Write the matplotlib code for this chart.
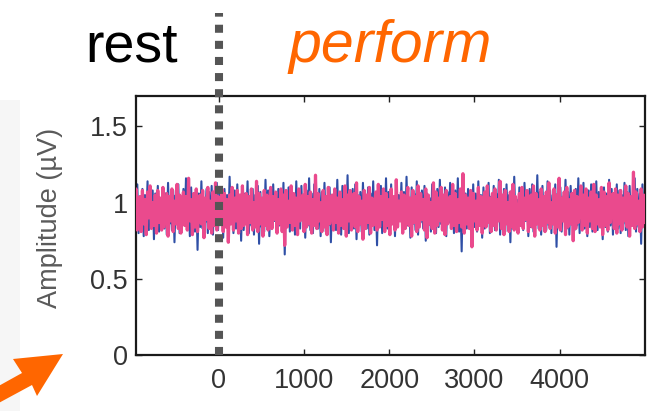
import numpy as np
import matplotlib
matplotlib.use("Agg")
import matplotlib.pyplot as plt
from matplotlib.patches import Rectangle, Polygon
from matplotlib.transforms import blended_transform_factory

plt.rcParams['font.family'] = ['Liberation Sans', 'DejaVu Sans']

# ---- data ----
t_start, t_end = -1000, 5000          # ms
onset = 0                               # rest/perform boundary
xticks = [0, 1000, 2000, 3000, 4000]
yticks = [0, 0.5, 1, 1.5]
ytick_labels = ["0", "0.5", "1", "1.5"]

amp_blue = [
0.83,1.07,0.86,1.12,0.80,1.04,0.88,1.09,0.78,1.05,0.85,1.14,0.82,1.02,0.87,1.08,0.76,1.06,0.84,1.11,
0.81,1.03,0.89,1.10,0.83,1.06,0.79,1.13,0.86,1.01,0.82,1.08,0.74,1.05,0.87,1.12,0.80,1.04,0.85,1.09,
0.88,1.16,0.82,1.05,0.78,1.10,0.86,1.03,0.81,1.08,0.69,1.06,0.84,1.14,0.83,1.02,0.87,1.09,0.80,1.07,
0.85,1.11,0.79,1.04,0.88,1.13,0.82,1.06,0.86,1.01,0.77,1.09,0.84,1.05,0.81,1.17,0.87,1.03,0.80,1.08,
0.83,1.12,0.86,1.04,0.75,1.10,0.82,1.06,0.88,1.14,0.80,1.02,0.85,1.09,0.79,1.05,0.87,1.11,0.73,1.07,
0.84,1.03,0.81,1.15,0.86,1.08,0.78,1.05,0.83,1.12,0.88,1.01,0.80,1.09,0.85,1.06,0.82,1.13,0.66,1.04,
0.87,1.10,0.81,1.07,0.84,1.02,0.79,1.14,0.86,1.05,0.83,1.11,0.88,1.03,0.77,1.08,0.85,1.16,0.82,1.06,
0.80,1.12,0.86,1.04,0.83,1.09,0.78,1.07,0.87,1.13,0.81,1.02,0.85,1.10,0.74,1.05,0.88,1.08,0.82,1.15,
0.84,1.03,0.79,1.11,0.86,1.06,0.82,1.18,0.80,1.04,0.87,1.09,0.83,1.12,0.76,1.05,0.85,1.07,0.81,1.13,
0.88,1.02,0.83,1.10,0.79,1.06,0.86,1.14,0.82,1.04,0.72,1.08,0.85,1.11,0.80,1.05,0.87,1.16,0.83,1.07,
0.81,1.12,0.86,1.03,0.78,1.09,0.84,1.05,0.88,1.13,0.80,1.07,0.83,1.17,0.85,1.02,0.77,1.10,0.86,1.06,
0.82,1.14,0.79,1.04,0.87,1.08,0.83,1.11,0.75,1.06,0.85,1.03,0.81,1.12,0.88,1.05,0.80,1.09,0.84,1.15,
0.86,1.05,0.82,1.10,0.78,1.07,0.87,1.13,0.83,1.02,0.80,1.08,0.85,1.16,0.81,1.04,0.68,1.11,0.86,1.06,
0.83,1.09,0.88,1.03,0.79,1.12,0.84,1.06,0.81,1.14,0.86,1.05,0.77,1.10,0.83,1.07,0.87,1.13,0.80,1.04,
0.85,1.11,0.82,1.06,0.88,1.15,0.79,1.03,0.84,1.09,0.81,1.12,0.86,1.05,0.74,1.08,0.83,1.17,0.87,1.02,
0.80,1.10,0.85,1.06,0.82,1.13,0.88,1.04,0.78,1.09,0.84,1.12,0.81,1.05,0.86,1.18,0.83,1.07,0.79,1.11,
0.87,1.03,0.82,1.14,0.85,1.08,0.80,1.05,0.86,1.12,0.71,1.06,0.84,1.10,0.81,1.04,0.88,1.15,0.83,1.07,
0.79,1.11,0.86,1.04,0.82,1.09,0.85,1.16,0.80,1.06,0.87,1.13,0.83,1.02,0.78,1.08,0.84,1.12,0.81,1.05,
0.86,1.14,0.82,1.07,0.88,1.03,0.76,1.10,0.84,1.06,0.81,1.15,0.85,1.09,0.79,1.04,0.87,1.12,0.83,1.08,
0.80,1.05,0.86,1.13,0.82,1.07,0.78,1.11,0.85,1.04,0.88,1.16,0.81,1.09,0.84,1.06,0.73,1.12,0.86,1.03,
]

amp_pink = [
1.06,0.84,1.09,0.82,0.97,1.04,0.81,1.08,0.86,1.02,0.79,1.07,0.90,1.11,0.83,1.00,0.85,1.05,0.80,1.08,
0.87,1.03,0.82,1.10,0.84,0.95,1.06,0.78,1.04,0.88,1.09,0.81,1.01,0.86,1.12,0.83,1.05,0.80,0.99,1.07,
0.85,1.04,0.82,1.16,0.88,1.02,0.79,1.06,0.84,1.09,0.81,0.98,1.05,0.86,1.08,0.77,1.03,0.89,1.10,0.83,
1.01,0.80,1.07,0.85,1.13,0.82,1.04,0.87,0.96,1.09,0.81,1.06,0.84,1.02,0.74,1.05,0.86,1.10,0.82,1.03,
0.88,1.08,0.80,1.05,0.83,1.11,0.85,0.99,1.06,0.79,1.04,0.87,1.09,0.82,1.00,0.84,1.14,0.81,1.06,0.86,
1.03,0.78,1.08,0.85,1.05,0.82,0.97,1.10,0.83,1.04,0.89,1.07,0.80,1.02,0.86,1.09,0.81,1.05,0.72,1.08,
0.84,1.01,0.87,1.11,0.82,1.06,0.85,1.03,0.79,1.09,0.88,0.98,1.05,0.81,1.12,0.84,1.04,0.86,1.07,0.80,
1.02,0.85,1.18,0.83,1.06,0.88,1.00,0.81,1.08,0.84,1.04,0.79,1.10,0.86,0.96,1.05,0.82,1.09,0.87,1.03,
0.80,1.07,0.85,1.02,0.83,1.11,0.78,1.05,0.88,1.08,0.82,0.99,1.06,0.84,1.13,0.81,1.04,0.86,1.01,0.76,
1.08,0.83,1.05,0.87,1.10,0.80,1.03,0.85,0.97,1.07,0.82,1.12,0.84,1.04,0.89,1.09,0.81,1.06,0.85,1.02,
0.79,1.09,0.86,1.04,0.82,1.15,0.84,1.01,0.88,1.07,0.80,1.05,0.83,0.98,1.10,0.85,1.03,0.78,1.08,0.87,
1.04,0.81,1.11,0.84,1.06,0.89,1.02,0.82,1.09,0.77,1.05,0.86,1.00,0.83,1.13,0.80,1.07,0.85,1.03,0.88,
1.10,0.82,1.05,0.79,1.08,0.86,0.96,1.04,0.83,1.12,0.85,1.06,0.81,1.02,0.87,1.09,0.84,1.19,0.80,1.05,
0.86,1.03,0.83,1.08,0.71,1.06,0.88,1.01,0.82,1.10,0.85,1.04,0.80,0.99,1.07,0.84,1.11,0.87,1.03,0.81,
1.06,0.85,1.09,0.82,1.02,0.88,1.14,0.83,1.05,0.79,1.08,0.86,1.00,0.81,1.07,0.84,1.12,0.82,1.04,0.87,
0.80,1.06,0.85,1.10,0.83,1.03,0.89,1.08,0.81,0.97,1.05,0.84,1.11,0.78,1.06,0.86,1.02,0.82,1.09,0.85,
1.04,0.81,1.07,0.87,1.13,0.83,1.00,0.86,1.09,0.80,1.05,0.84,1.16,0.82,1.03,0.88,1.07,0.79,1.10,0.84,
1.02,0.86,1.06,0.75,1.08,0.83,1.04,0.87,0.98,1.11,0.82,1.05,0.85,1.09,0.80,1.03,0.88,1.07,0.83,1.12,
0.81,1.05,0.86,1.02,0.84,1.10,0.79,1.07,0.85,1.04,0.82,1.13,0.87,0.99,1.06,0.83,1.09,0.80,1.05,0.86,
1.08,0.82,1.03,0.88,1.11,0.84,1.06,0.78,1.04,0.85,1.20,0.83,1.07,0.86,1.01,0.81,1.09,0.84,1.05,0.87,
]

W, H = 658, 411
fig = plt.figure(figsize=(W / 100, H / 100), dpi=100)

# light grey strip at the left edge
fig.patches.append(Rectangle((0, 0), 20 / W, (H - 100) / H, transform=fig.transFigure,
                             facecolor='#f6f6f6', edgecolor='none', zorder=0))

ax = fig.add_axes([136 / W, (H - 355) / H, (645 - 136) / W, (355 - 96) / H])

t_blue = np.linspace(t_start, t_end, len(amp_blue))
t_pink = np.linspace(t_start, t_end, len(amp_pink))
ax.plot(t_blue, amp_blue, color='#2f4fa6', lw=1.5, zorder=2)
ax.plot(t_pink, amp_pink, color='#ea4a8d', lw=2.3, zorder=3)

ax.set_xlim(-970, 5000)
ax.set_ylim(0, 1.7)
ax.set_xticks(xticks)
ax.set_xticklabels([str(v) for v in xticks])
ax.set_yticks(yticks)
ax.set_yticklabels(ytick_labels)
ax.tick_params(direction='in', length=4.5, width=1.0, top=True, right=True,
               labelsize=19.5, labelcolor='#333333', color='#222222')
ax.tick_params(axis='x', pad=9)
ax.tick_params(axis='y', pad=6)
for s in ax.spines.values():
    s.set_linewidth(1.6)
    s.set_color('#1a1a1a')

# dotted separator at onset, extending above the axes
trans = blended_transform_factory(ax.transData, fig.transFigure)
ax.plot([onset, onset], [(H - 355) / H, (H - 13) / H], transform=trans, clip_on=False,
        color='#555555', lw=5.8, linestyle=(0, (1, 1)), dash_capstyle='butt', zorder=5)

# y label
fig.text(50 / W, (H - 218) / H, 'Amplitude (µV)', rotation=90, ha='center', va='center',
         fontsize=19.5, color='#5a5a5a')

# header texts
fig.text(85 / W, (H - 62) / H, 'rest', fontsize=40, color='black', ha='left', va='baseline')
fig.text(288 / W, (H - 62) / H, 'perform', fontsize=42.5, color='#ff6600', style='italic',
         ha='left', va='baseline')

# orange arrow at bottom-left
arrow_px = [(-5, 388), (22, 373), (13, 359), (63, 354), (37, 396), (32, 385), (-5, 405)]
fig.patches.append(Polygon([(x / W, (H - y) / H) for x, y in arrow_px], closed=True,
                           transform=fig.transFigure, facecolor='#ff6600', edgecolor='none',
                           zorder=6))

fig.savefig('out.png', dpi=100)
